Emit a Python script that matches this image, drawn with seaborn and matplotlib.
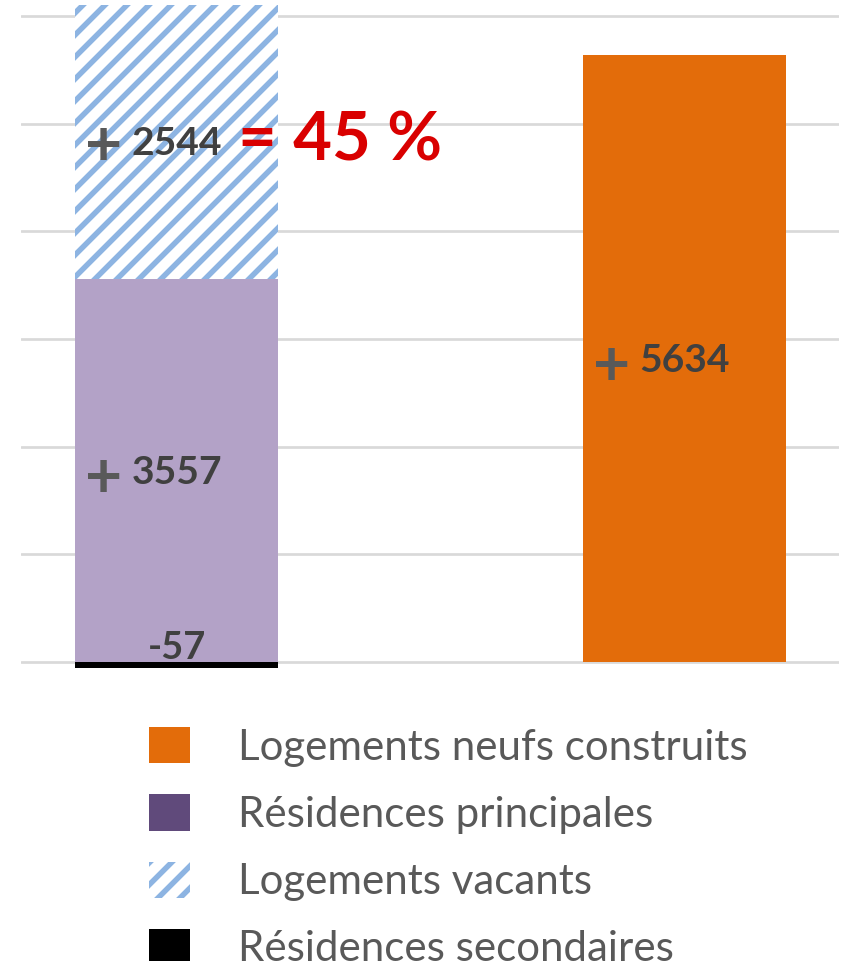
"""Stacked bars: évolution du parc de logements vs logements neufs construits."""

import matplotlib.pyplot as plt
import seaborn as sns
from matplotlib.patches import Patch

# Data
categories = ["Évolution du parc", "Construction neuve"]
secondaires = -57
principales = 3557
vacants = 2544
neufs = 5634

legend_labels = [
    "Logements neufs construits",
    "Résidences principales",
    "Logements vacants",
    "Résidences secondaires",
]

ORANGE = "#E36C0A"
PURPLE_BAR = "#B3A2C7"
PURPLE_LEGEND = "#604A7B"
BLUE_HATCH = "#8DB4E2"
LABEL_GREY = "#404040"
TEXT_GREY = "#595959"
RED = "#D90000"

DPI = 66
PT = 72 / DPI  # points per pixel

sns.set_theme(style="white")
plt.rcParams["font.family"] = ["Lato", "DejaVu Sans"]
plt.rcParams["hatch.linewidth"] = 5.5 * PT

fig = plt.figure(figsize=(845 / DPI, 961 / DPI), dpi=DPI)
ax = fig.add_axes([21 / 845, 1 - 672.8 / 961, 818 / 845, 672.8 / 961])

bar_kw = dict(order=categories, width=0.4, saturation=1, errorbar=None, ax=ax)

# Layers drawn back to front, each from zero
sns.barplot(x=[categories[0]], y=[principales + vacants], color="white",
            edgecolor=BLUE_HATCH, hatch="/", linewidth=0, **bar_kw)
sns.barplot(x=[categories[0]], y=[principales], color=PURPLE_BAR, linewidth=0, **bar_kw)
sns.barplot(x=[categories[0]], y=[secondaires], color="black", linewidth=0, **bar_kw)
sns.barplot(x=[categories[1]], y=[neufs], color=ORANGE, linewidth=0, **bar_kw)

ax.set_xlim(-0.307, 1.305)
ax.set_ylim(-100, 6147)
ax.set_yticks(range(0, 6001, 1000))
ax.yaxis.grid(True, color="#D9D9D9", linewidth=2.7 * PT)
ax.set_axisbelow(True)
ax.tick_params(labelleft=False, labelbottom=False, length=0)
ax.set_xlabel("")
ax.set_ylabel("")
sns.despine(ax=ax, left=True, bottom=True)


def value_label(x, y, value, plus_dy=8):
    ax.annotate(f"{value}", (x, y), xytext=(0, -2 * PT), textcoords="offset points",
                ha="center", va="center", fontsize=39 * PT, fontweight="bold", color=LABEL_GREY)
    ax.annotate("+", (x, y), xytext=(-73 * PT, -plus_dy * PT), textcoords="offset points",
                ha="center", va="center", fontsize=64 * PT, fontweight="bold", color=TEXT_GREY)


value_label(0, principales / 2, principales)
value_label(0, principales + vacants / 2, vacants, plus_dy=5)
value_label(1, neufs / 2, neufs)
ax.annotate(f"{secondaires}", (0, 0), xytext=(0, 3 * PT), textcoords="offset points",
            ha="center", va="baseline", fontsize=38 * PT, fontweight="bold", color=LABEL_GREY)

share = round(100 * vacants / neufs)
ax.text(0.12, principales + vacants / 2, f"= {share} %", ha="left", va="center",
        fontsize=67 * PT, fontweight="bold", color=RED)

handles = [
    Patch(facecolor=ORANGE, edgecolor="none"),
    Patch(facecolor=PURPLE_LEGEND, edgecolor="none"),
    Patch(facecolor="white", edgecolor=BLUE_HATCH, hatch="/", linewidth=0),
    Patch(facecolor="black", edgecolor="none"),
]
F = 42  # legend font size in px
fig.legend(handles, legend_labels, loc="upper left",
           bbox_to_anchor=(149 / 845, 1 - 727 / 961),
           frameon=False, fontsize=F * PT, labelcolor=TEXT_GREY,
           handlelength=41 / F, handleheight=40 / F, handletextpad=48 / F,
           labelspacing=0.66, borderpad=0, borderaxespad=0)

fig.savefig("out.png", dpi=DPI)
